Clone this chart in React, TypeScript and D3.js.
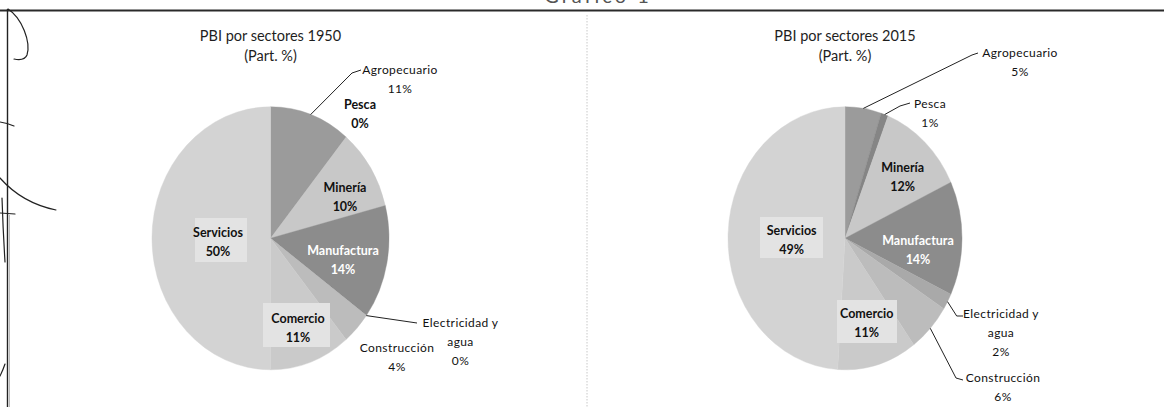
import React from "react";
import * as d3 from "d3";

const sectors = ["Agropecuario", "Pesca", "Minería", "Manufactura", "Electricidad y agua", "Construcción", "Comercio", "Servicios"];
const values1950 = [11, 0, 10, 14, 0, 4, 11, 50];
const values2015 = [5, 1, 12, 14, 2, 6, 11, 49];
const pctLabels1950 = ["11%", "0%", "10%", "14%", "0%", "4%", "11%", "50%"];
const pctLabels2015 = ["5%", "1%", "12%", "14%", "2%", "6%", "11%", "49%"];
const titles = ["PBI por sectores 1950", "PBI por sectores 2015"];
const subtitle = "(Part. %)";
const headerTitle = "Gráfico 1";

const colors = ["#9b9b9b", "#858585", "#c8c8c8", "#8c8c8c", "#a9a9a9", "#bcbcbc", "#cacaca", "#d3d3d3"];

const W = 1164, H = 407;
const FONT = "Lato, 'Open Sans', sans-serif";

type LabelLayout = {
  name: string[];
  pos: [number, number];
  leader?: [number, number][];
  white?: boolean;
  box?: [number, number, number, number];
  bold?: boolean;
};

const layout1950: LabelLayout[] = [
  { name: ["Agropecuario"], pos: [129.5, -169.3], leader: [[81.5, -165.3], [90.5, -168.3]] },
  { name: ["Pesca"], pos: [89.5, -134.3], bold: true },
  { name: ["Minería"], pos: [74.5, -51.3], bold: true },
  { name: ["Manufactura"], pos: [72.5, 11.7], white: true, bold: true },
  { name: ["Electricidad y", "agua"], pos: [190, 83.7], leader: [[146.5, 84.7]] },
  { name: ["Construcción"], pos: [126.5, 108.7] },
  { name: ["Comercio"], pos: [27.5, 79.7], box: [-35, -15, 67, 44], bold: true },
  { name: ["Servicios"], pos: [-52.5, -6.3], box: [-23, -14, 52, 44], bold: true },
];

const layout2015: LabelLayout[] = [
  { name: ["Agropecuario"], pos: [175, -186.3], leader: [[127, -183.3], [133, -185.3]] },
  { name: ["Pesca"], pos: [85, -135.3], leader: [[55, -132.3], [65, -135.3]] },
  { name: ["Minería"], pos: [57.7, -71.3], bold: true },
  { name: ["Manufactura"], pos: [73, 1.7], white: true, bold: true },
  { name: ["Electricidad y", "agua"], pos: [156, 74.7], leader: [[111.7, 77.7], [118, 77.7]] },
  { name: ["Construcción"], pos: [158, 138.7], leader: [[111, 139.7], [118, 141.7]] },
  { name: ["Comercio"], pos: [21.7, 74.7], box: [-29.7, -13, 60, 43], bold: true },
  { name: ["Servicios"], pos: [-53.3, -8.3], box: [-31.7, -13, 63, 41], bold: true },
];

function Pie({ cx, cy, rx, ry, values, pcts, labels, title }: {
  cx: number; cy: number; rx: number; ry: number; values: number[]; pcts: string[]; labels: LabelLayout[]; title: string;
}) {
  const pie = d3.pie<number>().sort(null).value((d) => d)(values);
  const arc = d3.arc<d3.PieArcDatum<number>>().innerRadius(0).outerRadius(rx);
  const k = ry / rx;
  const gap = 19;
  return (
    <g>
      <text x={cx} y={35} textAnchor="middle" dominantBaseline="central" fontSize={14.5} fill="#1e1e1e" fontFamily={FONT}>{title}</text>
      <text x={cx} y={55} textAnchor="middle" dominantBaseline="central" fontSize={14.5} fill="#1e1e1e" fontFamily={FONT}>{subtitle}</text>
      <g transform={`translate(${cx},${cy}) scale(1,${k})`}>
        {pie.map((d, i) => (
          <path key={i} d={arc(d) || ""} fill={colors[i]} stroke={colors[i]} strokeWidth={0.4} />
        ))}
      </g>
      {labels.map((l, i) => {
        const d = pie[i];
        const mid = (d.startAngle + d.endAngle) / 2;
        const sx = cx + Math.sin(mid) * rx;
        const sy = cy - Math.cos(mid) * rx * k;
        const lines = [...l.name, pcts[i]];
        const lx = cx + l.pos[0];
        const ly = cy + l.pos[1];
        return (
          <g key={i}>
            {l.box && (
              <rect x={lx + l.box[0]} y={ly + l.box[1]} width={l.box[2]} height={l.box[3]} fill="#e3e3e3" />
            )}
            {l.leader && (
              <polyline
                points={[[sx, sy], ...l.leader.map((p) => [cx + p[0], cy + p[1]])].map((p) => p.join(",")).join(" ")}
                fill="none" stroke="#222" strokeWidth={1}
              />
            )}
            {lines.map((t, j) => (
              <text key={j} x={lx} y={ly + j * gap} textAnchor="middle" dominantBaseline="central"
                fontSize={l.bold ? 12.5 : 12} fontWeight={l.bold ? 700 : 400} fill={l.white ? "#ffffff" : "#111"} fontFamily={FONT}
                letterSpacing={l.bold ? 0 : 0.4}>
                {t}
              </text>
            ))}
          </g>
        );
      })}
    </g>
  );
}

export default function App() {
  return (
    <svg width={W} height={H} style={{ position: "absolute", left: 0, top: 0, background: "#fff" }}>
      <rect width={W} height={H} fill="#fff" />
      <text x={598} y={3} textAnchor="middle" fontSize={20} letterSpacing={3} fill="#555" fontFamily={FONT}>{headerTitle}</text>
      <line x1={0} x2={W} y1={10.5} y2={10.5} stroke="#2a2a2a" strokeWidth={2} />
      <line x1={7.5} x2={7.5} y1={9} y2={H} stroke="#222" strokeWidth={1.4} />
      <line x1={9.5} x2={9.5} y1={215} y2={H} stroke="#bbb" strokeWidth={1} />
      <line x1={587} x2={587} y1={15} y2={H} stroke="#c8c8c8" strokeWidth={1} strokeDasharray="1.5,1.5" />
      {/* hand-drawn pen marks */}
      <g fill="none" stroke="#222" strokeWidth={1.2} strokeLinecap="round">
        <path d="M8,9 C22,18 31,42 27,55 C25,60 19,60 14,59" />
        <path d="M0,122 Q7,123 14,126" />
        <path d="M0,178 Q22,203 56,210" />
        <path d="M0,213 L15,214" />
        <path d="M2,198 Q3,230 5,262" />
        <path d="M0,376 Q3,370 5,364" />
      </g>
      <Pie cx={270.5} cy={238.3} rx={118.5} ry={131.5} values={values1950} pcts={pctLabels1950} labels={layout1950} title={titles[0]} />
      <Pie cx={845} cy={238.3} rx={117} ry={131.5} values={values2015} pcts={pctLabels2015} labels={layout2015} title={titles[1]} />
    </svg>
  );
}
